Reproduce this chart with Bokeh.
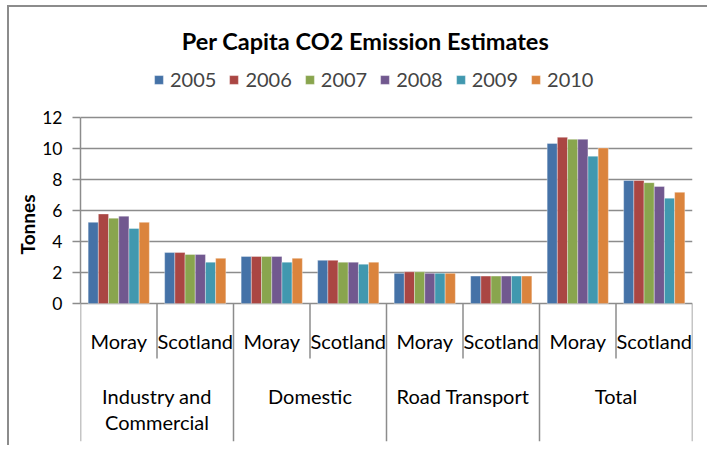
from bokeh.plotting import figure
from bokeh.models import (ColumnDataSource, FactorRange, Range1d, FixedTicker,
                          Legend, LegendItem, Label)
from bokeh.transform import dodge
from bokeh.core.properties import value
from bokeh.embed import file_html
from bokeh.resources import INLINE

# ---------------- data ----------------
title_text = "Per Capita CO2 Emission Estimates"
y_label = "Tonnes"
groups = ["Industry and Commercial", "Domestic", "Road Transport", "Total"]
group_display = ["Industry and\nCommercial", "Domestic", "Road Transport", "Total"]
areas = ["Moray", "Scotland"]
years = ["2005", "2006", "2007", "2008", "2009", "2010"]
y_ticks = [0, 2, 4, 6, 8, 10, 12]

# order: IC-Moray, IC-Scotland, Dom-Moray, Dom-Scotland, Road-Moray, Road-Scotland, Total-Moray, Total-Scotland
v2005 = [5.24, 3.29, 3.04, 2.79, 1.95, 1.77, 10.33, 7.94]
v2006 = [5.78, 3.29, 3.04, 2.79, 2.05, 1.77, 10.73, 7.94]
v2007 = [5.51, 3.17, 3.04, 2.67, 2.05, 1.77, 10.60, 7.80]
v2008 = [5.64, 3.17, 3.04, 2.67, 1.95, 1.77, 10.60, 7.55]
v2009 = [4.84, 2.67, 2.67, 2.54, 1.95, 1.77, 9.51, 6.80]
v2010 = [5.24, 2.92, 2.92, 2.67, 1.95, 1.77, 10.04, 7.18]
series = [v2005, v2006, v2007, v2008, v2009, v2010]
colors = ["#4572A7", "#AA4643", "#89A54E", "#71588F", "#4198AF", "#DB843D"]

# ---------------- build ----------------
cats = [(g, a) for g in groups for a in areas]
data = {"cat": cats}
for y, s in zip(years, series):
    data[y] = s
source = ColumnDataSource(data)

FONT = "Lato"
GRAY = "#8c8c8c"

y_bottom = -8.9
y_top = 19.1

p = figure(width=700, height=440, output_backend="svg", toolbar_location=None,
           x_range=FactorRange(*cats, factor_padding=0, group_padding=0, range_padding=0),
           y_range=Range1d(y_bottom, y_top),
           min_border_left=71, min_border_right=17, min_border_top=0, min_border_bottom=6)
p.styles = {"margin-left": "7px", "margin-top": "5px",
            "border-left": "2px solid #8c8c8c", "border-top": "2px solid #8c8c8c"}
p.outline_line_color = None
p.xaxis.visible = False
p.xgrid.visible = False
p.background_fill_color = "white"
p.border_fill_color = "white"

p.ygrid.bounds = (0, 12)
p.ygrid.grid_line_color = GRAY
p.ygrid.grid_line_width = 1.5

ya = p.yaxis[0]
ya.bounds = (0, 12)
ya.ticker = FixedTicker(ticks=y_ticks)
ya.axis_line_color = GRAY
ya.axis_line_width = 1.5
ya.major_tick_line_color = GRAY
ya.major_tick_line_width = 1.5
ya.major_tick_out = 8
ya.major_tick_in = 0
ya.minor_tick_line_color = None
ya.major_label_text_font = FONT
ya.major_label_text_font_size = "17.5px"
ya.major_label_text_color = "black"
ya.major_label_standoff = 10
ya.axis_label = y_label
ya.axis_label_text_font = FONT
ya.axis_label_text_font_style = "bold"
ya.axis_label_text_font_size = "19px"
ya.axis_label_text_color = "black"
ya.axis_label_standoff = 0

n = len(years)
bw = 0.8 / n
items = []
for i, (y, c) in enumerate(zip(years, colors)):
    off = (i - (n - 1) / 2) * bw
    r = p.vbar(x=dodge("cat", off, range=p.x_range), top=y, width=bw, bottom=0,
               source=source, fill_color=c, line_color="white", line_alpha=0.35,
               line_width=1)
    items.append(LegendItem(label=y, renderers=[r]))

# category separators (Excel-style multi-level axis)
grp_x = [i * len(areas) for i in range(len(groups) + 1)]
sub_x = [i * len(areas) + 1 for i in range(len(groups))]
p.segment(x0=grp_x, y0=[0] * len(grp_x), x1=grp_x, y1=[y_bottom] * len(grp_x),
          line_color=GRAY, line_width=1.5)
p.segment(x0=sub_x, y0=[0] * len(sub_x), x1=sub_x, y1=[-3.55] * len(sub_x),
          line_color=GRAY, line_width=1.5)

# category labels
p.text(x=cats, y=[0] * len(cats), text=[a for g, a in cats], y_offset=37,
       text_align="center", text_baseline="middle", text_font=value(FONT),
       text_font_size="20px", text_color="black")
p.text(x=groups, y=[0] * len(groups), text=group_display, y_offset=80,
       text_align="center", text_baseline="top", text_font=value(FONT),
       text_font_size="20px", text_color="black", text_line_height=1.1)

# legend
legend = Legend(items=items, orientation="horizontal", location=(73, 350),
                glyph_width=11, glyph_height=11, label_standoff=6, spacing=12,
                label_text_font=FONT, label_text_font_size="20px",
                label_height=20, padding=0, margin=0,
                border_line_color=None, background_fill_alpha=0)
p.add_layout(legend, "center")

# title
p.add_layout(Label(x=285, y=401, x_units="screen", y_units="screen", text=title_text,
                   text_align="center", text_baseline="middle", text_font=FONT,
                   text_font_style="bold", text_font_size="23.5px", text_color="black"))

open("out.html", "w").write(file_html(p, INLINE))
